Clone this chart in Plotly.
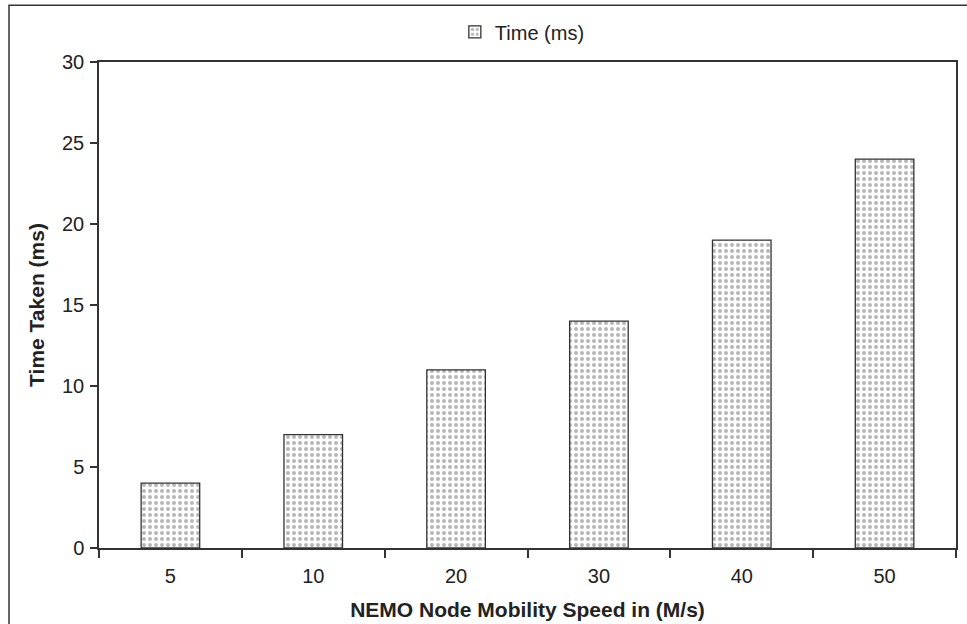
import plotly.graph_objects as go

categories = ["5", "10", "20", "30", "40", "50"]
time_ms = [4, 7, 11, 14, 19, 24]
y_ticks = [0, 5, 10, 15, 20, 25, 30]

fig = go.Figure()
fig.add_trace(go.Bar(
    x=categories, y=time_ms, name="Time (ms)",
    width=0.41,
    marker=dict(
        color="white",
        line=dict(color="#333333", width=1.3),
        pattern=dict(shape=".", fgcolor="#6e6e6e", bgcolor="white", size=6, solidity=0.35),
    ),
))

fig.update_layout(
    width=967, height=624,
    margin=dict(l=99, r=11, t=62, b=76),
    paper_bgcolor="white", plot_bgcolor="white",
    font=dict(family="Liberation Sans, Arial, sans-serif", size=20, color="#222222"),
    showlegend=True,
    legend=dict(orientation="h", x=0.494, xanchor="center", y=1.062, yanchor="middle",
                font=dict(size=20), itemwidth=30, bgcolor="rgba(0,0,0,0)"),
    bargap=0.59,
)
fig.update_xaxes(
    type="category", showline=True, linecolor="#333333", linewidth=1.5, mirror=True,
    ticks="outside", tickson="boundaries", ticklen=8, tickcolor="#333333", tickwidth=1.5,
    showgrid=False, tickfont=dict(size=20), ticklabelstandoff=9, automargin=False,
    title=dict(text="<b>NEMO Node Mobility Speed in (M/s)</b>", font=dict(size=21), standoff=17),
)
fig.update_yaxes(
    range=[0, 30], tickvals=y_ticks, showline=True, linecolor="#333333", linewidth=1.5,
    mirror=True, ticks="outside", ticklen=7, tickcolor="#333333", tickwidth=1.5,
    showgrid=False, zeroline=False, tickfont=dict(size=20), ticklabelstandoff=2,
    automargin=False,
    title=dict(text="<b>Time Taken (ms)</b>", font=dict(size=21), standoff=12),
)
# outer border
fig.add_shape(type="rect", xref="paper", yref="paper",
              x0=-0.105, x1=1.02, y0=-0.3, y1=1.117,
              line=dict(color="#333333", width=1.5), fillcolor="rgba(0,0,0,0)", layer="below")

fig.write_html("out.html")
